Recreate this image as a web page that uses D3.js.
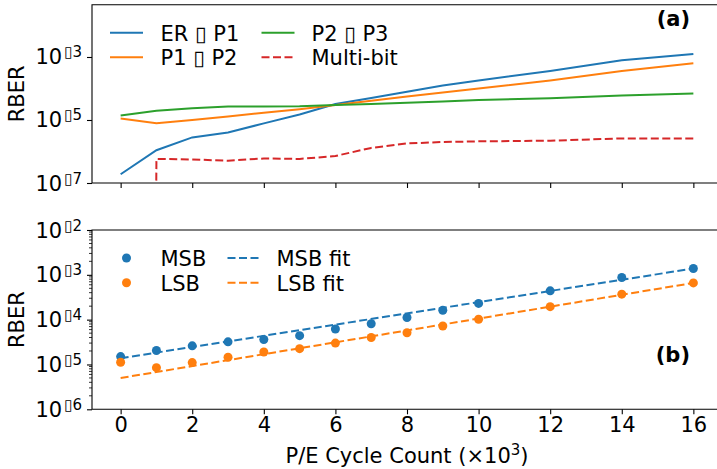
<!DOCTYPE html>
<html>
<head>
<meta charset="utf-8">
<script src="https://cdn.jsdelivr.net/npm/d3@7"></script>
<style>
  body { margin: 0; background: #fff; }
  text { font-family: "DejaVu Sans", sans-serif; fill: #000; }
</style>
</head>
<body>
<div id="container"></div>
<script>
// ---- data ----
let cycles = [0, 1, 2, 3, 4, 5, 6, 7, 8, 9, 10, 12, 14, 16];

let erP1 = [1.9e-7, 1.1e-6, 2.8e-6, 4.0e-6, 7.8e-6, 1.5e-5, 3.2e-5, 5.0e-5, 7.9e-5, 1.25e-4, 1.8e-4, 3.6e-4, 7.9e-4, 1.25e-3];
let p1P2 = [1.12e-5, 7.9e-6, 1.0e-5, 1.3e-5, 1.7e-5, 2.2e-5, 3.0e-5, 4.1e-5, 5.6e-5, 7.4e-5, 1.0e-4, 1.8e-4, 3.6e-4, 6.3e-4];
let p2P3 = [1.4e-5, 1.95e-5, 2.35e-5, 2.7e-5, 2.7e-5, 2.75e-5, 3.0e-5, 3.2e-5, 3.5e-5, 3.9e-5, 4.3e-5, 4.9e-5, 6.0e-5, 6.9e-5];
let multiBit = [0, 5.8e-7, 5.6e-7, 5.1e-7, 6.0e-7, 5.8e-7, 7.2e-7, 1.3e-6, 1.8e-6, 2.0e-6, 2.1e-6, 2.2e-6, 2.6e-6, 2.6e-6];

let msb = [1.5e-5, 2.05e-5, 2.6e-5, 3.2e-5, 3.6e-5, 4.4e-5, 6.2e-5, 8.1e-5, 1.12e-4, 1.62e-4, 2.3e-4, 4.4e-4, 8.7e-4, 1.38e-3];
let lsb = [1.12e-5, 8.5e-6, 1.1e-5, 1.45e-5, 1.9e-5, 2.25e-5, 3.0e-5, 4.0e-5, 5.1e-5, 7.2e-5, 1.02e-4, 1.95e-4, 3.7e-4, 6.6e-4];

let fitX = [0, 16];
let msbFit = [1.38e-5, 1.38e-3];
let lsbFit = [5.0e-6, 6.6e-4];

let xTicks = [0, 2, 4, 6, 8, 10, 12, 14, 16];
let topYTicks = [1e-7, 1e-5, 1e-3];
let topYExp = ["7", "5", "3"];
let botYTicks = [1e-6, 1e-5, 1e-4, 1e-3, 1e-2];
let botYExp = ["6", "5", "4", "3", "2"];

let topSeries = ["ER \u25AF P1", "P1 \u25AF P2", "P2 \u25AF P3", "Multi-bit"];
let botSeries = ["MSB", "LSB", "MSB fit", "LSB fit"];

let blue = "#1f77b4", orange = "#ff7f0e", green = "#2ca02c", red = "#d62728";

// ---- layout ----
let w = 717;
let h = 469;
let left = 92, right = 722;
let fs = "21px", fsSup = "15px";

let viz = d3.select("#container")
  .append("svg")
    .attr("width", w)
    .attr("height", h)
    .style("background-color", "#fff")
;

let x = d3.scaleLinear().domain([-0.8, 16.8]).range([left, right]);
let yTop = d3.scaleLog().domain([1e-7, Math.pow(10, -1.34)]).range([183, 4.7]);
let yBot = d3.scaleLog().domain([1e-6, 1e-2]).range([409.3, 230]);

let defs = viz.append("defs");
defs.append("clipPath").attr("id", "clipTop")
  .append("rect").attr("x", left).attr("y", 4.7).attr("width", right - left).attr("height", 183 - 4.7);
defs.append("clipPath").attr("id", "clipBot")
  .append("rect").attr("x", left).attr("y", 230).attr("width", right - left).attr("height", 409.3 - 230);

function drawAxes(y, yTicks, yExp, bottomY, topY, minor, showXLabels){
  // x ticks
  let xa = viz.append("g")
      .attr("transform", "translate(0," + bottomY + ")")
      .call(d3.axisBottom(x).tickValues(xTicks).tickSize(5).tickSizeOuter(0).tickPadding(4)
        .tickFormat(showXLabels ? d3.format("d") : ""));
  xa.select(".domain").remove();
  xa.selectAll("line").attr("stroke", "#000").attr("stroke-width", 1.1);
  xa.selectAll("text").style("font-size", fs).attr("dy", "0.71em").attr("y", 8);

  // y ticks (major)
  let ya = viz.append("g")
      .attr("transform", "translate(" + left + ",0)")
      .call(d3.axisLeft(y).tickValues(yTicks).tickSize(5).tickSizeOuter(0).tickFormat(""));
  ya.select(".domain").remove();
  ya.selectAll("line").attr("stroke", "#000").attr("stroke-width", 1.1);

  if (minor) {
    let minorVals = [];
    yTicks.forEach(t => { if (t < y.domain()[1]) { for (let k = 2; k <= 9; k++) minorVals.push(t * k); } });
    viz.append("g").selectAll("line").data(minorVals).enter()
      .append("line")
        .attr("x1", left - 3).attr("x2", left)
        .attr("y1", d => y(d)).attr("y2", d => y(d))
        .attr("stroke", "#000").attr("stroke-width", 0.8);
  }

  // y tick labels 10^-n (minus shows as a missing glyph box)
  let lab = viz.append("g").selectAll("text").data(yTicks).enter()
    .append("text")
      .attr("x", 82)
      .attr("y", d => y(d) + 7.5)
      .attr("text-anchor", "end")
      .style("font-size", fs);
  lab.append("tspan").text("10");
  lab.append("tspan").attr("dy", -7).attr("dx", 2).style("font-size", fsSup).text((d, i) => "\u25AF" + yExp[i]);

  // spines: left, top, bottom
  viz.append("path")
    .attr("d", "M" + right + "," + topY + "H" + left + "V" + bottomY + "H" + right)
    .attr("fill", "none").attr("stroke", "#000").attr("stroke-width", 1.1);
}

drawAxes(yTop, topYTicks, topYExp, 183, 4.7, false, false);
drawAxes(yBot, botYTicks, botYExp, 409.3, 230, true, true);

// ---- panel (a) lines ----
let gTop = viz.append("g").attr("clip-path", "url(#clipTop)");
let lineTop = d3.line()
  .x(d => x(d[0]))
  .y(d => d[1] > 0 ? yTop(d[1]) : yTop.range()[0] + 5000);

[[erP1, blue, null], [p1P2, orange, null], [p2P3, green, null], [multiBit, red, "8,3.5"]].forEach(s => {
  gTop.append("path")
    .datum(cycles.map((c, i) => [c, s[0][i]]))
    .attr("d", lineTop)
    .attr("fill", "none")
    .attr("stroke", s[1])
    .attr("stroke-width", 2)
    .attr("stroke-dasharray", s[2]);
});

// ---- panel (b) fits and points ----
let gBot = viz.append("g").attr("clip-path", "url(#clipBot)");
let lineBot = d3.line().x(d => x(d[0])).y(d => yBot(d[1]));

[[msbFit, blue], [lsbFit, orange]].forEach(s => {
  gBot.append("path")
    .datum(fitX.map((c, i) => [c, s[0][i]]))
    .attr("d", lineBot)
    .attr("fill", "none")
    .attr("stroke", s[1])
    .attr("stroke-width", 2)
    .attr("stroke-dasharray", "8,3.5");
});

[[msb, blue], [lsb, orange]].forEach(s => {
  gBot.selectAll(null).data(cycles.map((c, i) => [c, s[0][i]])).enter()
    .append("circle")
      .attr("cx", d => x(d[0]))
      .attr("cy", d => yBot(d[1]))
      .attr("r", 4.5)
      .attr("fill", s[1]);
});

// ---- legends ----
let legTop = [
  {name: topSeries[0], color: blue, dash: null, lx: 110, tx: 160.5, y: 32.7},
  {name: topSeries[1], color: orange, dash: null, lx: 110, tx: 160.5, y: 57.3},
  {name: topSeries[2], color: green, dash: null, lx: 261.5, tx: 311.5, y: 32.7},
  {name: topSeries[3], color: red, dash: "8,3.5", lx: 261.5, tx: 311.5, y: 57.3}
];
legTop.forEach(d => {
  viz.append("line")
    .attr("x1", d.lx).attr("x2", d.lx + 33).attr("y1", d.y).attr("y2", d.y)
    .attr("stroke", d.color).attr("stroke-width", 2).attr("stroke-dasharray", d.dash);
  viz.append("text").attr("x", d.tx).attr("y", d.y + 7.8).style("font-size", fs).text(d.name);
});

let legBot = [
  {name: botSeries[0], color: blue, line: false, lx: 110, tx: 160.5, y: 258},
  {name: botSeries[1], color: orange, line: false, lx: 110, tx: 160.5, y: 282.7},
  {name: botSeries[2], color: blue, line: true, lx: 227.5, tx: 276.5, y: 258},
  {name: botSeries[3], color: orange, line: true, lx: 227.5, tx: 276.5, y: 282.7}
];
legBot.forEach(d => {
  if (d.line) {
    viz.append("line")
      .attr("x1", d.lx).attr("x2", d.lx + 31).attr("y1", d.y).attr("y2", d.y)
      .attr("stroke", d.color).attr("stroke-width", 2).attr("stroke-dasharray", "8,3.5");
  } else {
    viz.append("circle").attr("cx", d.lx + 16.5).attr("cy", d.y).attr("r", 4.5).attr("fill", d.color);
  }
  viz.append("text").attr("x", d.tx).attr("y", d.y + 7.8).style("font-size", fs).text(d.name);
});

// ---- panel tags and axis titles ----
viz.append("text").attr("x", 690).attr("y", 26).attr("text-anchor", "end")
  .style("font-size", fs).style("font-weight", "bold").text("(a)");
viz.append("text").attr("x", 690).attr("y", 362).attr("text-anchor", "end")
  .style("font-size", fs).style("font-weight", "bold").text("(b)");

viz.append("text")
  .attr("transform", "translate(24," + ((183 + 4.7) / 2) + ") rotate(-90)")
  .attr("text-anchor", "middle").style("font-size", fs).text("RBER");
viz.append("text")
  .attr("transform", "translate(24," + ((409.3 + 230) / 2) + ") rotate(-90)")
  .attr("text-anchor", "middle").style("font-size", fs).text("RBER");

let xl = viz.append("text")
  .attr("x", (left + right) / 2).attr("y", 463)
  .attr("text-anchor", "middle").style("font-size", fs);
xl.append("tspan").text("P/E Cycle Count (\u00D710");
xl.append("tspan").attr("dy", -8).style("font-size", fsSup).text("3");
xl.append("tspan").attr("dy", 8).text(")");
</script>
</body>
</html>
